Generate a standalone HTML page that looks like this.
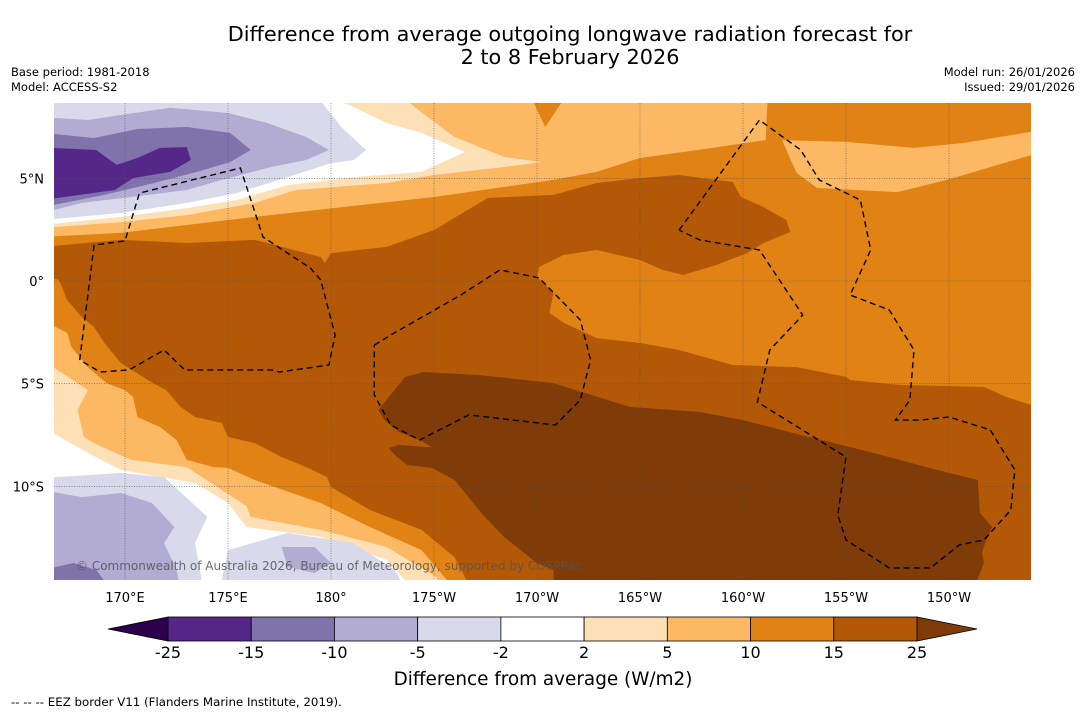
<!DOCTYPE html>
<html><head><meta charset="utf-8"><style>
html,body{margin:0;padding:0;background:#fff;}
svg{display:block;font-family:"DejaVu Sans","Liberation Sans",sans-serif;}
</style></head><body>
<svg id="chart" width="1085" height="713" viewBox="0 0 1085 713" xmlns="http://www.w3.org/2000/svg">
<rect width="1085" height="713" fill="#fff"/>
<text x="570" y="41" font-size="20.8" text-anchor="middle">Difference from average outgoing longwave radiation forecast for</text>
<text x="570" y="64" font-size="20.8" text-anchor="middle">2 to 8 February 2026</text>
<text x="11" y="76" font-size="11.5">Base period: 1981-2018</text>
<text x="11" y="91" font-size="11.5">Model: ACCESS-S2</text>
<text x="1075" y="76" font-size="11.5" text-anchor="end">Model run: 26/01/2026</text>
<text x="1075" y="91" font-size="11.5" text-anchor="end">Issued: 29/01/2026</text>
<defs><clipPath id="mapclip"><rect x="54" y="103" width="977" height="477"/></clipPath></defs>
<g id="map" clip-path="url(#mapclip)"></g>
<g id="axes"></g>
<g id="cbar"></g>
<text x="543" y="685" font-size="18.4" text-anchor="middle">Difference from average (W/m2)</text>
<text x="11" y="706" font-size="11.8">--  --  -- EEZ border V11 (Flanders Marine Institute, 2019).</text>
</svg>
<script>
// ---- data ----
const lonTicks = [170,175,180,185,190,195,200,205,210];
const lonLabels = ["170°E","175°E","180°","175°W","170°W","165°W","160°W","155°W","150°W"];
const latTicks = [5,0,-5,-10];
const latLabels = ["5°N","0°","5°S","10°S"];
const cbLevels = ["-25","-15","-10","-5","-2","2","5","10","15","25"];
const cbColors = ["#542788","#8073ac","#b2abd2","#d8daeb","#ffffff","#fee0b6","#fdb863","#e08214","#b35806"];
const cbLow = "#2d004b", cbHigh = "#7f3b08";
// filled contour regions [lon(E 0-360), lat]
const baseColor = "#b35806";
const contourUpper15 = [[166,9],[214.5,9],[214.5,-6.2],[212.8,-5.65],[211.7,-5.16],[207.6,-5.06],[205.2,-4.82],[205,-4.67],[202.6,-4.19],[199.5,-4.09],[196.9,-3.36],[195,-3.02],[192.9,-2.78],[191.3,-2.04],[190.6,-1.56],[190.8,-0.58],[190,0.19],[190.1,0.68],[191.3,1.27],[192.9,1.51],[195,1.02],[196.1,0.54],[197.1,0.29],[198.7,0.78],[200.2,1.36],[201,1.85],[202.3,2.39],[202.1,2.97],[201,3.6],[199.9,4.09],[199.5,4.82],[196.9,5.16],[195,5.01],[192.9,4.77],[190.8,4.19],[187.6,4.04],[185,2.48],[182.7,1.66],[180,1.36],[179.7,0.88],[179.5,1.17],[176.3,2],[173,1.85],[169.8,2],[166,1.66]];
const contourLowerLeft15 = [[166,0.29],[166.8,0.05],[167.2,-0.93],[167.9,-1.75],[168.5,-2.24],[169,-3.02],[169.8,-3.99],[171.1,-4.82],[172,-5.31],[172.7,-6.13],[173.4,-6.62],[174.7,-6.91],[175,-7.59],[176.3,-7.89],[177.6,-8.57],[178.8,-9.06],[179.8,-9.54],[180,-10.03],[181.9,-11.15],[184.4,-12.12],[186,-13.44],[186.8,-15],[166,-15]];
const contour25 = [[183.6,-4.67],[184.5,-4.43],[187.2,-4.58],[190.8,-4.97],[194.5,-6.13],[197.9,-6.38],[200,-6.77],[202.8,-7.5],[205.2,-8.08],[207.6,-8.71],[210,-9.35],[211.4,-9.69],[211.5,-11.3],[212.1,-11.98],[211.8,-12.61],[211.6,-13.24],[211.7,-13.73],[211.2,-15],[190.8,-15],[190.8,-14.07],[190,-13.73],[188.4,-12.46],[187.3,-11.3],[186,-9.69],[184.9,-9.1],[183.7,-8.96],[183.1,-8.47],[182.8,-8.13],[183.3,-7.98],[184.6,-8.08],[184.9,-8.08],[184.3,-7.74],[183.3,-7.35],[182.6,-6.77],[182.3,-6.28]];
const contourUpper10 = [[166,9],[189.7,9],[190.4,7.5],[191.4,9],[201.2,9],[201.1,6.86],[197.8,6.38],[195,5.99],[192.9,5.31],[190.8,4.92],[185,4.09],[176.3,3.12],[169.8,2.34],[166,2.14]];
const contourRight10 = [[201.9,6.86],[205,6.77],[208.3,6.48],[210.7,6.72],[214.5,7.35],[214.5,6.28],[209.9,4.92],[207.5,4.33],[203.6,4.53],[202.6,5.26]];
const contourLower10 = [[166,-1.9],[167.2,-2.53],[167.4,-3.21],[168.2,-4.19],[169.1,-4.97],[170,-5.31],[170.4,-5.65],[170.6,-6.62],[171.7,-7.11],[172.5,-7.74],[173,-8.71],[174.3,-9.06],[175,-9.1],[176.3,-9.69],[179.5,-10.81],[181.9,-11.98],[184.4,-13.1],[186,-15],[166,-15]];
const contourUpper5 = [[166,9],[183.4,9],[184.7,7.98],[186,7.01],[188.4,6.04],[190.2,5.79],[188.4,5.55],[185,5.16],[182.7,4.77],[178.3,4.43],[176.3,3.8],[173,3.21],[169.8,2.87],[166,2.58]];
const contourLower5 = [[166,-3.85],[168.2,-5.31],[167.7,-6.28],[168,-7.59],[168.5,-7.89],[170.3,-8.71],[173,-9.06],[175.9,-10.96],[176.1,-11.49],[179.5,-12.12],[182.7,-12.95],[185.1,-14.41],[185.3,-15],[166,-15]];
const contourUpper2 = [[166,9],[179.8,9],[181.1,8.47],[182.7,7.69],[184.4,7.21],[186.5,6.28],[184.4,5.31],[181.1,5.06],[177.9,4.67],[175.4,3.94],[173,3.55],[169.8,3.12],[166,2.73]];
const contourLower2 = [[166,-7.11],[168.2,-8.37],[169.8,-9.2],[173.4,-9.83],[175,-10.81],[175.9,-11.98],[179.5,-12.46],[182.7,-13.58],[184,-15],[166,-15]];
const contourUpperM2 = [[166,9],[179.3,9],[180.5,7.5],[181.7,6.38],[181.1,5.89],[180,5.74],[177.9,5.06],[175.4,4.28],[173,3.8],[169.8,3.31],[166,2.97]];
const contourLowerM2 = [[166,-9.59],[169.8,-9.35],[171.9,-9.54],[174,-11.49],[173.4,-12.76],[173.7,-14.41],[173.7,-15],[166,-15]];
const contourBlobM2 = [[175,-13.1],[177.9,-12.27],[181.1,-12.76],[183.1,-14.07],[183.6,-15],[174.6,-15]];
const contourUpperM5 = [[166,7.98],[168.2,7.84],[169.8,8.08],[172.2,8.43],[175,8.18],[176.9,7.69],[178.8,7.01],[179.9,6.38],[178.8,5.89],[177.1,5.55],[174.7,4.92],[173,4.43],[170.3,4.09],[167.9,3.8],[166,3.31]];
const contourLowerM5 = [[166,-10.18],[167.9,-10.52],[169.8,-10.32],[171.3,-10.81],[172.4,-11.98],[171.9,-12.76],[172.5,-14.07],[172.7,-15],[166,-15]];
const contourBlobM5 = [[177.6,-12.95],[179.2,-12.95],[180,-13.73],[179.2,-14.22],[177.9,-13.92]];
const contourUpperM10 = [[166,7.21],[168.5,6.96],[170.6,7.4],[173,7.5],[175.1,7.21],[176.1,6.38],[175.1,5.79],[173.5,5.31],[171.4,4.77],[169,4.19],[166,3.6]];
const contourLowerM10 = [[166,-14.07],[167.5,-13.73],[168.6,-14.07],[169.3,-15],[166,-15]];
const contourUpperM15 = [[166,6.5],[168.6,6.38],[169.6,5.65],[170.6,5.99],[171.7,6.48],[173,6.52],[173.2,5.89],[172.2,5.31],[170.4,5.01],[169.5,4.43],[166,3.94]];
// EEZ borders
const eezWest = [[167.8,-3.85],[168.5,1.75],[170,1.95],[170.7,4.28],[175.6,5.5],[176.7,2.14],[179,0.63],[179.5,0.05],[180.2,-2.63],[179.9,-4.09],[177.5,-4.43],[177.1,-4.33],[172.9,-4.33],[171.9,-3.36],[170.2,-4.33],[168.8,-4.43],[167.8,-3.85]];
const eezMid = [[182.1,-3.12],[182.9,-2.63],[186.3,-0.68],[188.2,0.54],[190.1,0.15],[192.1,-1.9],[192.6,-3.85],[192.1,-5.79],[190.9,-7.01],[186.7,-6.52],[184.3,-7.74],[182.9,-7.01],[182.1,-5.55],[182.1,-3.12]];
const eezEast = [[196.9,2.48],[200.8,7.84],[202.8,6.38],[203.7,4.92],[205.7,3.94],[206.2,1.51],[205.2,-0.68],[207.1,-1.41],[208.3,-3.36],[208.1,-5.79],[207.4,-6.77],[208.6,-6.77],[210,-6.62],[212,-7.25],[213.2,-9.2],[213,-11.15],[211.7,-12.61],[210.5,-12.85],[209.1,-13.97],[207.1,-13.97],[205,-12.61],[204.6,-11.39],[205,-8.57],[200.7,-5.89],[201.3,-3.36],[202.9,-1.66],[200.8,1.51],[197.9,2],[196.9,2.48]];

// ---- scales ----
const X = lon => 125 + (lon - 170) * 20.6;
const Y = lat => 281 - lat * 20.54;
const NS = "http://www.w3.org/2000/svg";
const map = document.getElementById('map');
const axes = document.getElementById('axes');
function mk(tag, attrs, parent){ const e=document.createElementNS(NS,tag); for(const k in attrs) e.setAttribute(k,attrs[k]); parent.appendChild(e); return e; }
const pts = arr => arr.map(p => X(p[0]).toFixed(1)+','+Y(p[1]).toFixed(1)).join(' ');

const bg = mk('rect',{x:54,y:103,width:977,height:477,fill:baseColor},map);


const layers = [
 [contourUpper15,"#e08214","anomaly-10-15-north"],
 [contourLowerLeft15,"#e08214","anomaly-10-15-southwest"],
 [contour25,"#7f3b08","anomaly-above-25"],
 [contourUpper10,"#fdb863","anomaly-5-10-north"],
 [contourRight10,"#fdb863","anomaly-5-10-northeast"],
 [contourLower10,"#fdb863","anomaly-5-10-southwest"],
 [contourUpper5,"#fee0b6","anomaly-2-5-north"],
 [contourLower5,"#fee0b6","anomaly-2-5-southwest"],
 [contourUpper2,"#ffffff","anomaly-neutral-north"],
 [contourLower2,"#ffffff","anomaly-neutral-southwest"],
 [contourUpperM2,"#d8daeb","anomaly-minus2-5-north"],
 [contourLowerM2,"#d8daeb","anomaly-minus2-5-southwest"],
 [contourBlobM2,"#d8daeb","anomaly-minus2-5-south"],
 [contourUpperM5,"#b2abd2","anomaly-minus5-10-north"],
 [contourLowerM5,"#b2abd2","anomaly-minus5-10-southwest"],
 [contourBlobM5,"#b2abd2","anomaly-minus5-10-south"],
 [contourUpperM10,"#8073ac","anomaly-minus10-15-north"],
 [contourLowerM10,"#8073ac","anomaly-minus10-15-southwest"],
 [contourUpperM15,"#542788","anomaly-minus15-25-north"]
];
layers.forEach(l => {
  const p = mk('polygon',{points:pts(l[0]),fill:l[1]},map);
  
  
});
// gridlines
lonTicks.forEach((lon,i) => {
  const g = mk('line',{x1:X(lon),x2:X(lon),y1:103,y2:580,stroke:'#555','stroke-width':0.6,'stroke-dasharray':'1,1.5'},map);
  
  
  const t = mk('text',{x:X(lon),y:602,'font-size':13,'text-anchor':'middle'},axes);
  t.textContent = lonLabels[i];
  
  
});
latTicks.forEach((lat,i) => {
  const g = mk('line',{x1:54,x2:1031,y1:Y(lat),y2:Y(lat),stroke:'#555','stroke-width':0.6,'stroke-dasharray':'1,1.5'},map);
  
  
  const t = mk('text',{x:44,y:Y(lat)+5,'font-size':13,'text-anchor':'end'},axes);
  t.textContent = latLabels[i];
  
  
});
[eezWest,eezMid,eezEast].forEach(b => {
  const p = mk('polyline',{points:pts(b),fill:'none',stroke:'#000','stroke-width':1.4,'stroke-dasharray':'6,4'},map);
  
  
});
const cr = mk('text',{x:76,y:570,'font-size':12,fill:'#555','fill-opacity':0.85},map);
cr.textContent = "© Commonwealth of Australia 2026, Bureau of Meteorology, supported by COSPPac";



// colorbar
const cb = document.getElementById('cbar');
const cbX0 = 168, cbX1 = 917, cbY = 617, cbH = 24;
const w = (cbX1 - cbX0) / cbColors.length;
const lt = mk('polygon',{points:`${cbX0},${cbY} ${cbX0-60},${cbY+cbH/2} ${cbX0},${cbY+cbH}`,fill:cbLow,stroke:'#000','stroke-width':0.8},cb);


const rt = mk('polygon',{points:`${cbX1},${cbY} ${cbX1+60},${cbY+cbH/2} ${cbX1},${cbY+cbH}`,fill:cbHigh,stroke:'#000','stroke-width':0.8},cb);


cbColors.forEach((c,i) => {
  const r = mk('rect',{x:cbX0+i*w,y:cbY,width:w,height:cbH,fill:c,stroke:'#000','stroke-width':0.8},cb);
  
  
});
cbLevels.forEach((v,i) => {
  const t = mk('text',{x:cbX0+i*w,y:658,'font-size':16,'text-anchor':'middle'},cb);
  t.textContent = v;
  
  
});
</script>
</body></html>
